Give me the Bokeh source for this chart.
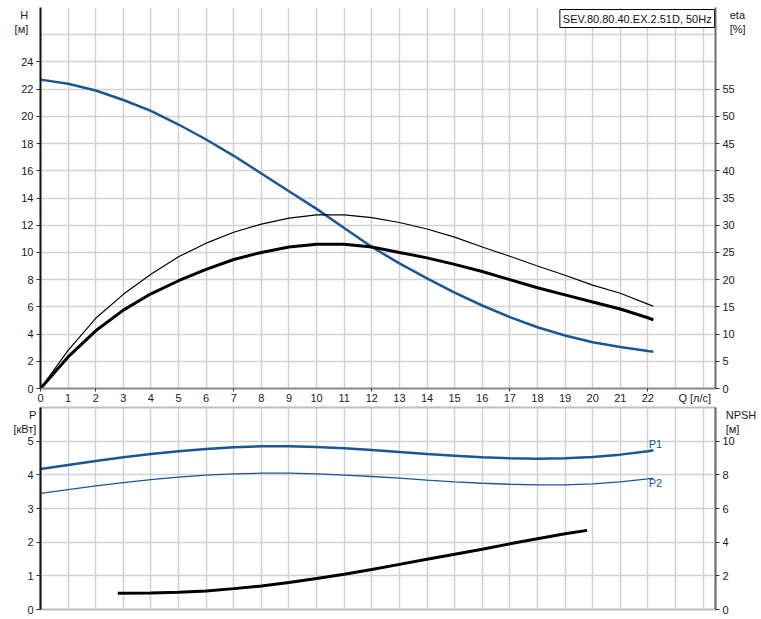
from bokeh.plotting import figure
from bokeh.models import Range1d, LinearAxis, FixedTicker, Label
from bokeh.layouts import column
from bokeh.embed import file_html
from bokeh.resources import INLINE

# ---- data ----
q = [0, 1, 2, 3, 4, 5, 6, 7, 8, 9, 10, 11, 12, 13, 14, 15, 16, 17, 18, 19, 20, 21, 22, 22.2]
head = [22.7, 22.4, 21.9, 21.2, 20.4, 19.4, 18.3, 17.1, 15.8, 14.5, 13.2, 11.8, 10.4, 9.2,
        8.1, 7.05, 6.1, 5.25, 4.5, 3.9, 3.4, 3.05, 2.75, 2.7]
eta_thick = [0, 5.8, 10.6, 14.4, 17.4, 19.8, 21.9, 23.7, 25.0, 26.0, 26.5, 26.5, 26.0, 25.0,
             24.0, 22.8, 21.5, 20.0, 18.5, 17.2, 15.9, 14.6, 13.0, 12.6]
eta_thin = [0, 7.0, 12.9, 17.3, 21.0, 24.2, 26.7, 28.7, 30.2, 31.3, 31.9, 31.9, 31.4, 30.5,
            29.3, 27.8, 26.0, 24.3, 22.5, 20.8, 19.0, 17.5, 15.5, 15.1]
p1_kw = [4.17, 4.29, 4.41, 4.52, 4.62, 4.70, 4.77, 4.82, 4.85, 4.85, 4.83, 4.79, 4.74, 4.68,
         4.62, 4.57, 4.52, 4.49, 4.48, 4.49, 4.53, 4.60, 4.70, 4.73]
p2_kw = [3.45, 3.56, 3.67, 3.77, 3.86, 3.93, 3.99, 4.03, 4.05, 4.05, 4.03, 3.99, 3.95, 3.90,
         3.84, 3.79, 3.75, 3.72, 3.70, 3.70, 3.73, 3.79, 3.88, 3.90]
q_npsh = [2.8, 4, 5, 6, 7, 8, 9, 10, 11, 12, 13, 14, 15, 16, 17, 18, 19, 19.8]
npsh = [0.96, 0.98, 1.02, 1.1, 1.24, 1.4, 1.6, 1.84, 2.1, 2.38, 2.68, 2.98, 3.28, 3.58,
        3.9, 4.2, 4.5, 4.7]

q_ticks = list(range(0, 23))
q_label_pos = 23.7
q_label = "Q [л/с]"
q_grid = list(range(0, 25))
h_ticks = list(range(0, 25, 2))
h_grid = list(range(0, 27, 2))
eta_ticks = list(range(0, 56, 5))
p_ticks = [0, 1, 2, 3, 4, 5]
p_grid = [0, 1, 2, 3, 4, 5]
npsh_ticks = [0, 2, 4, 6, 8, 10]
title_text = "SEV.80.80.40.EX.2.51D, 50Hz"

BLUE = "#1b5796"
FONT = "Liberation Sans"
FS = "11px"
GRID = "#d2d2d2"
W = 761

def style_axis(ax, line_color, label=None, standoff=0):
    ax.axis_line_color = line_color
    ax.axis_line_width = 2
    ax.major_tick_line_color = "#333333"
    ax.major_tick_out = 4
    ax.major_tick_in = 0
    ax.minor_tick_line_color = None
    ax.major_label_text_font = FONT
    ax.major_label_text_font_size = FS
    ax.major_label_text_color = "#1a1a1a"
    ax.major_label_standoff = 3
    if label is not None:
        ax.axis_label = label
        ax.axis_label_text_font = FONT
        ax.axis_label_text_font_size = FS
        ax.axis_label_text_font_style = "normal"
        ax.axis_label_text_color = "#1a1a1a"
        ax.axis_label_orientation = "horizontal"
        ax.axis_label_align = "end"
        ax.axis_label_standoff = standoff

def lab(p, x, y, text, color="#1a1a1a", align="center", y_range_name="default", **kw):
    p.add_layout(Label(x=x, y=y, text=text, text_align=align, text_baseline="middle",
                       text_font=FONT, text_font_size=FS, text_color=color,
                       y_range_name=y_range_name, **kw))

# ---- top panel ----
p = figure(width=W, height=406, x_range=Range1d(0, 24.45), y_range=Range1d(0, 28),
           output_backend="svg", toolbar_location=None,
           min_border_left=40, min_border_right=46, min_border_top=7, min_border_bottom=18)
p.extra_y_ranges = {"eta": Range1d(0, 70)}
p.outline_line_color = None
p.xgrid[0].ticker = FixedTicker(ticks=q_grid)
p.ygrid[0].ticker = FixedTicker(ticks=h_grid)
for g in (p.xgrid[0], p.ygrid[0]):
    g.grid_line_color = GRID
    g.grid_line_width = 1.5

xa = p.xaxis[0]
xa.ticker = FixedTicker(ticks=q_ticks + [q_label_pos], minor_ticks=[0, 2, 7, 12, 17, 22])
style_axis(xa, "#8a8a8a")
xa.major_label_overrides = {q_label_pos: q_label}
xa.major_tick_out = 0
xa.minor_tick_out = 3
xa.minor_tick_in = 0
xa.minor_tick_line_color = "#333333"
xa.major_label_standoff = 0

ya = p.yaxis[0]
ya.ticker = FixedTicker(ticks=h_ticks)
style_axis(ya, "#111111", label="\n\nH\n[м]", standoff=-10)

ra = LinearAxis(y_range_name="eta", ticker=FixedTicker(ticks=eta_ticks))
style_axis(ra, "#6e6e6e", label="\n\neta\n[%]", standoff=-8)
p.add_layout(ra, "right")

p.line(q, head, line_color=BLUE, line_width=2.5)
p.line(q, eta_thin, line_color="black", line_width=1.2, y_range_name="eta")
p.line(q, eta_thick, line_color="black", line_width=3, y_range_name="eta")

p.add_layout(Label(x=24.42, y=27.85, text=title_text, text_align="right", text_baseline="top",
                   text_font=FONT, text_font_size=FS, text_color="#111111",
                   border_line_color="black", border_line_width=1,
                   background_fill_color="white", padding=3))

# ---- bottom panel ----
b = figure(width=W, height=213, x_range=p.x_range, y_range=Range1d(0, 6),
           output_backend="svg", toolbar_location=None, x_axis_location=None,
           min_border_left=40, min_border_right=46, min_border_top=1, min_border_bottom=10)
b.extra_y_ranges = {"npsh": Range1d(0, 12)}
b.outline_line_color = "#bdbdbd"
b.outline_line_width = 2
b.xgrid[0].ticker = FixedTicker(ticks=q_grid)
b.ygrid[0].ticker = FixedTicker(ticks=p_grid)
for g in (b.xgrid[0], b.ygrid[0]):
    g.grid_line_color = GRID
    g.grid_line_width = 1.5

yb = b.yaxis[0]
yb.ticker = FixedTicker(ticks=p_ticks)
style_axis(yb, "#111111", label="\n\nP\n[кВт]", standoff=-12)
rb = LinearAxis(y_range_name="npsh", ticker=FixedTicker(ticks=npsh_ticks))
style_axis(rb, "#6e6e6e", label="\n\nNPSH\n[м]", standoff=-12)
b.add_layout(rb, "right")

b.line(q, p1_kw, line_color=BLUE, line_width=2.5)
b.line(q, p2_kw, line_color=BLUE, line_width=1.3)
b.line(q_npsh, npsh, line_color="black", line_width=3, y_range_name="npsh")

lab(b, 22.03, 4.91, "P1", color=BLUE, align="left")
lab(b, 22.03, 3.75, "P2", color=BLUE, align="left")

layout = column(p, b)
open("out.html", "w").write(file_html(layout, INLINE))
